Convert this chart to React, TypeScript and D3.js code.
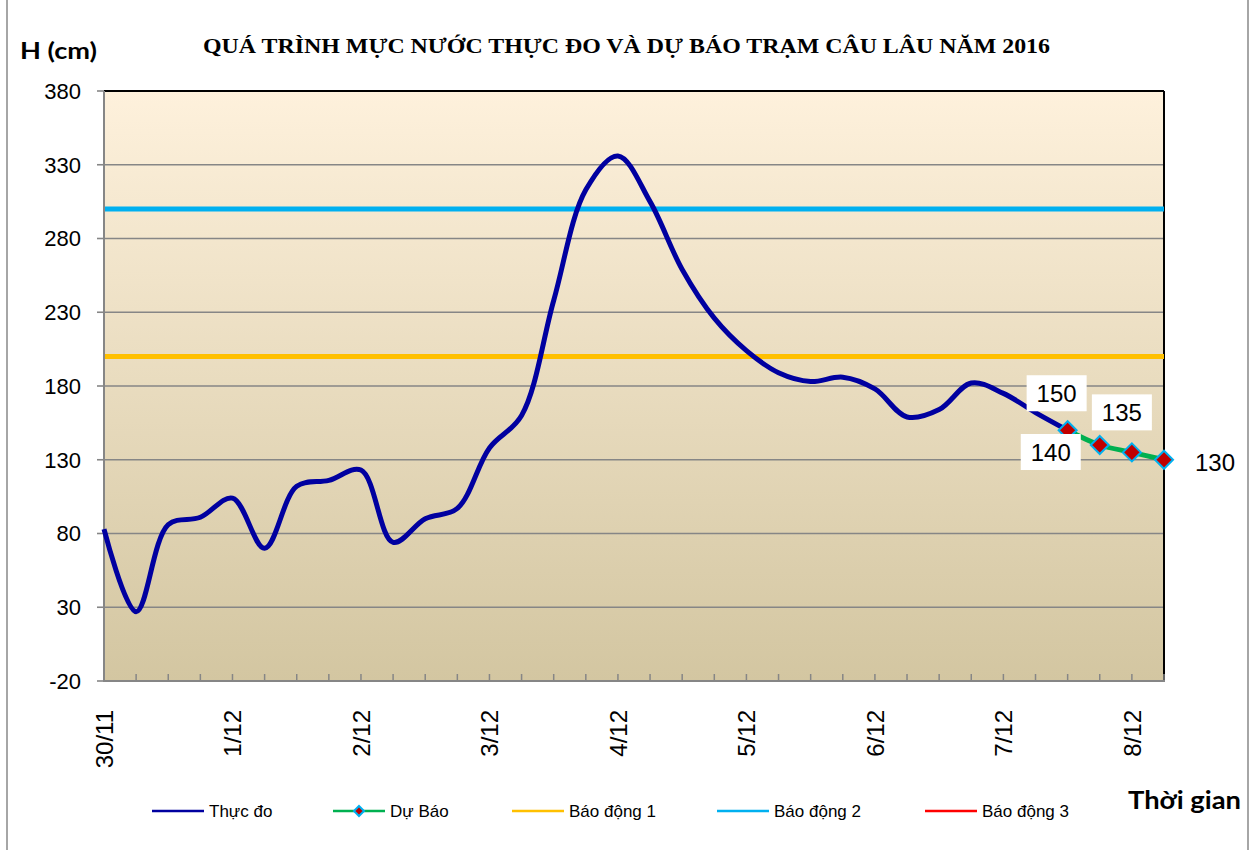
import React from "react"
import * as d3 from "d3"

// day labels, one every 4 categories (6-hour steps)
const dayLabels = ["30/11", "1/12", "2/12", "3/12", "4/12", "5/12", "6/12", "7/12", "8/12"]
const stepsPerDay = 4
const nCategories = 34

// observed water level (cm), categories 0..30
const observed = [
  83, 27, 86, 91, 104, 70, 112, 116, 123, 74, 90, 97,
  138, 160, 238, 313, 336, 305, 259, 226, 204, 189, 183, 186,
  178, 159, 164, 182, 175, 162, 150,
]
// forecast starts at the last observed category
const forecastStart = 30
const forecast = [150, 140, 135, 130]
const forecastLabels = ["150", "140", "135", "130"]

const alarm1 = 200
const alarm2 = 300
const yTicks = [-20, 30, 80, 130, 180, 230, 280, 330, 380]

const legendItems = [
  { name: "Thực đo", color: "#0000A0", x: 152, marker: false },
  { name: "Dự Báo", color: "#00B050", x: 333, marker: true },
  { name: "Báo động 1", color: "#FFC000", x: 512, marker: false },
  { name: "Báo động 2", color: "#00B0F0", x: 717, marker: false },
  { name: "Báo động 3", color: "#FF0000", x: 925, marker: false },
]

const W = 1255
const H = 850
const left = 104
const right = 1164
const top = 91
const bottom = 681

export default function App() {
  const x = d3.scaleLinear().domain([0, nCategories - 1]).range([left, right])
  const y = d3.scaleLinear().domain([-20, 380]).range([bottom, top])

  const line = d3
    .line<[number, number]>()
    .x(d => x(d[0]))
    .y(d => y(d[1]))
    .curve(d3.curveCatmullRom.alpha(0.5))

  const obsPts: [number, number][] = observed.map((v, i) => [i, v])
  const fcPts: [number, number][] = forecast.map((v, i) => [forecastStart + i, v])

  const diamond = (cx: number, cy: number, r: number) =>
    `M${cx},${cy - r}L${cx + r},${cy}L${cx},${cy + r}L${cx - r},${cy}Z`

  // label offsets relative to each forecast point
  const labelOffsets = [
    [-11, -37, true],
    [-49, 7, true],
    [-10, -40, true],
    [51, 3, false],
  ] as const

  return (
    <svg width={W} height={H} style={{ position: "absolute", left: 0, top: 0, background: "#fff" }}
      fontFamily="'Liberation Sans', Arial, sans-serif">
      <defs>
        <linearGradient id="plotBg" x1="0" y1="0" x2="0" y2="1">
          <stop offset="0%" stopColor="#FEF1DC" />
          <stop offset="100%" stopColor="#D3C6A1" />
        </linearGradient>
      </defs>

      {/* outer frame */}
      <line x1={7} x2={7} y1={0} y2={H} stroke="#A6A6A6" strokeWidth={2} />
      <line x1={1248} x2={1248} y1={0} y2={H} stroke="#A6A6A6" strokeWidth={2} />

      {/* titles */}
      <text x={20} y={59} fontFamily="Lato, 'Open Sans', sans-serif" fontWeight="bold" fontSize={22}
        textLength={77} lengthAdjust="spacingAndGlyphs">H (cm)</text>
      <text x={203} y={53} fontFamily="'Liberation Serif', 'Times New Roman', serif" fontWeight="bold"
        fontSize={21} textLength={847} lengthAdjust="spacingAndGlyphs">
        QUÁ TRÌNH MỰC NƯỚC THỰC ĐO VÀ DỰ BÁO TRẠM CÂU LÂU NĂM 2016
      </text>

      {/* plot area */}
      <rect x={left} y={top} width={right - left} height={bottom - top} fill="url(#plotBg)" />

      {yTicks.map(t => (
        <g key={t}>
          {t > -20 && t < 380 && (
            <line x1={left} x2={right} y1={y(t)} y2={y(t)} stroke="#868686" strokeWidth={1.6} />
          )}
          <line x1={97} x2={left} y1={y(t)} y2={y(t)} stroke="#868686" strokeWidth={1.6} />
          <text x={81} y={y(t)} dy="0.36em" textAnchor="end" fontSize={22}>{t}</text>
        </g>
      ))}

      <line x1={left} x2={right} y1={top} y2={top} stroke="#000" strokeWidth={2} />
      <line x1={right} x2={right} y1={top} y2={bottom} stroke="#000" strokeWidth={2} />

      {/* alarm levels */}
      <line x1={left} x2={right} y1={y(alarm1)} y2={y(alarm1)} stroke="#FFC000" strokeWidth={5} />
      <line x1={left} x2={right} y1={y(alarm2)} y2={y(alarm2)} stroke="#00B0F0" strokeWidth={5} />

      {/* axes */}
      <line x1={left} x2={left} y1={top} y2={bottom + 1} stroke="#868686" strokeWidth={2} />
      <line x1={left} x2={right + 1} y1={bottom} y2={bottom} stroke="#868686" strokeWidth={2} />
      {d3.range(1, nCategories).map(i => (
        <line key={i} x1={x(i)} x2={x(i)} y1={bottom - 7} y2={bottom} stroke="#868686" strokeWidth={1.5} />
      ))}
      {dayLabels.map((d, k) => (
        <text key={d} transform={`translate(${x(k * stepsPerDay) + 9},710) rotate(-90)`}
          textAnchor="end" fontSize={24}>{d}</text>
      ))}

      {/* series */}
      <path d={line(obsPts) || ""} fill="none" stroke="#0000A0" strokeWidth={5} strokeLinejoin="round" />
      <path d={line(fcPts) || ""} fill="none" stroke="#00B050" strokeWidth={5} strokeLinejoin="round" />
      {fcPts.map(p => (
        <path key={p[0]} d={diamond(x(p[0]), y(p[1]), 9)} fill="#C00000" stroke="#00B0F0" strokeWidth={2} />
      ))}

      {/* data labels */}
      {fcPts.map((p, i) => {
        const [dx, dy, box] = labelOffsets[i]
        const cx = x(p[0]) + dx
        const cy = y(p[1]) + dy
        return (
          <g key={"l" + i}>
            {box && <rect x={cx - 30} y={cy - 18} width={60} height={36} fill="#fff" />}
            <text x={cx} y={cy} dy="0.36em" textAnchor="middle" fontSize={24}>{forecastLabels[i]}</text>
          </g>
        )
      })}

      {/* legend */}
      {legendItems.map(item => (
        <g key={item.name}>
          <line x1={item.x} x2={item.x + 52} y1={811} y2={811} stroke={item.color} strokeWidth={2.5} />
          {item.marker && (
            <path d={diamond(item.x + 26, 811, 5)} fill="#C00000" stroke="#00B0F0" strokeWidth={2} />
          )}
          <text x={item.x + 57} y={811} dy="0.36em" fontSize={17}>{item.name}</text>
        </g>
      ))}
      <text x={1128} y={809} fontFamily="Lato, 'Open Sans', sans-serif" fontWeight="bold" fontSize={24}
        textLength={113} lengthAdjust="spacingAndGlyphs">Thời gian</text>
    </svg>
  )
}
